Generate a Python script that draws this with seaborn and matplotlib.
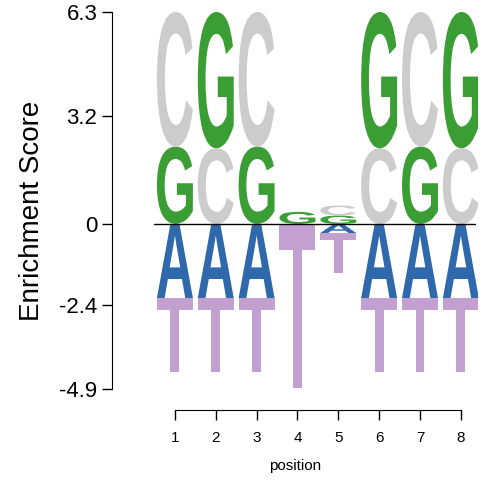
import numpy as np
import matplotlib
matplotlib.use("Agg")
import matplotlib.pyplot as plt
import seaborn as sns
from matplotlib.textpath import TextPath
from matplotlib.patches import PathPatch
from matplotlib.font_manager import FontProperties
from matplotlib.transforms import Affine2D

# Data: per position, letter heights (positive = enriched, negative = depleted)
positions = [1, 2, 3, 4, 5, 6, 7, 8]
height_C = [4.0, 2.25, 4.0, 0.0, 0.3, 2.25, 4.0, 2.25]
height_G = [2.3, 4.05, 2.3, 0.36, 0.25, 4.05, 2.3, 4.05]
height_A = [-2.2, -2.2, -2.2, 0.0, -0.27, -2.2, -2.2, -2.2]
height_T = [-2.2, -2.2, -2.2, -4.87, -1.2, -2.2, -2.2, -2.2]

y_ticks = [-4.9, -2.4, 0, 3.2, 6.3]

colors = {"C": "#cccccc", "G": "#3a9e35", "A": "#2f68ab", "T": "#c2a0d0"}

sns.set_style("ticks")
plt.rcParams["font.family"] = ["Liberation Sans", "DejaVu Sans"]
plt.rcParams["text.color"] = "black"
plt.rcParams["axes.labelcolor"] = "black"
plt.rcParams["xtick.color"] = "black"
plt.rcParams["ytick.color"] = "black"
plt.rcParams["axes.edgecolor"] = "black"
fp = FontProperties(family="Liberation Sans", weight="bold")


def draw_letter(ax, letter, x, y0, y1, width=0.88):
    if abs(y1 - y0) < 1e-6:
        return
    tp = TextPath((0, 0), letter, size=1, prop=fp)
    bb = tp.get_extents()
    tr = (Affine2D()
          .translate(-bb.x0, -bb.y0)
          .scale(width / bb.width, (y1 - y0) / bb.height)
          .translate(x - width / 2, y0))
    path = tr.transform_path(tp)
    ax.add_patch(PathPatch(path, facecolor=colors[letter], edgecolor="none"))


fig = plt.figure(figsize=(4.83, 4.93), dpi=100)
ax = fig.add_axes([112 / 483, 1 - 410 / 493, 366 / 483, 398 / 493])

for i, x in enumerate(positions):
    pos = sorted([("C", height_C[i]), ("G", height_G[i])], key=lambda t: t[1])
    base = 0
    for letter, h in pos:
        draw_letter(ax, letter, x, base, base + h)
        base += h
    neg = sorted([("A", height_A[i]), ("T", height_T[i])], key=lambda t: -t[1])
    base = 0
    for letter, h in neg:
        draw_letter(ax, letter, x, base + h, base)
        base += h

ax.plot([0.5, 8.35], [0, 0], color="black", lw=1)

ax.set_xlim(-0.54, 8.42)
ax.set_ylim(-5.53, 6.3)
ax.set_yticks(y_ticks)
ax.set_yticklabels(["-4.9", "-2.4", "0", "3.2", "6.3"], fontsize=16)
ax.set_xticks(positions)
ax.set_xticklabels([str(p) for p in positions], fontsize=11)
ax.spines["left"].set_bounds(-4.9, 6.3)
ax.spines["bottom"].set_bounds(1, 8)
sns.despine(ax=ax)
ax.tick_params(axis="y", length=7, width=1)
ax.tick_params(axis="x", length=7, width=1, pad=8)
ax.set_ylabel("Enrichment Score", fontsize=20, labelpad=10)
ax.set_xlabel("position", fontsize=11, labelpad=10)

fig.savefig("out.png", dpi=100)
